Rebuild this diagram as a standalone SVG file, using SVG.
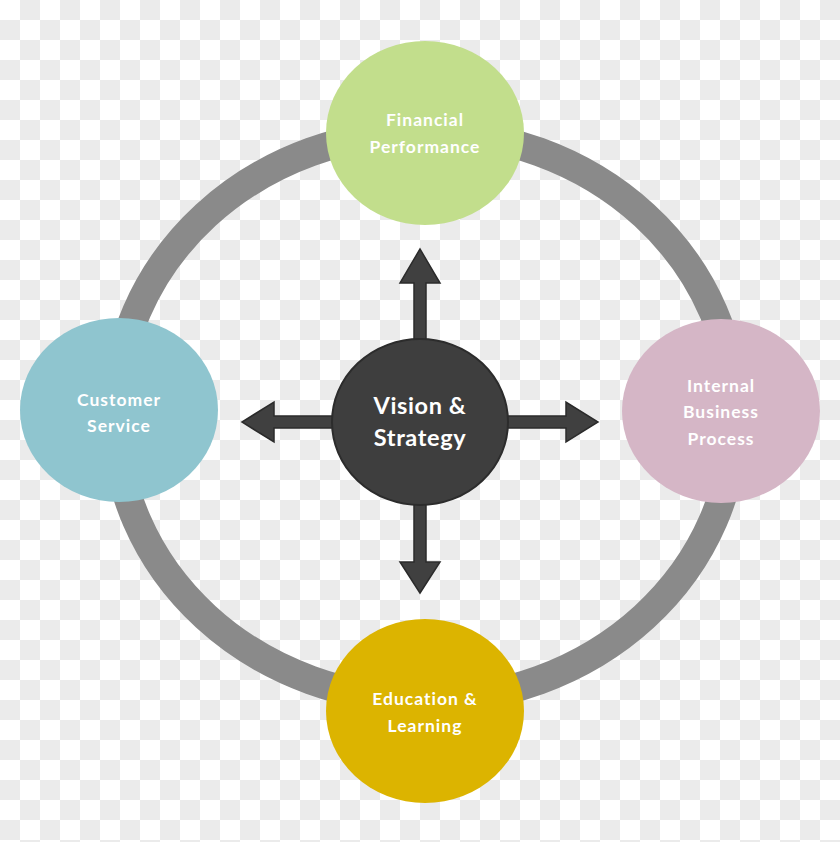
<svg xmlns="http://www.w3.org/2000/svg" width="840" height="842" viewBox="0 0 840 842">
  <defs>
    <pattern id="checker" x="0" y="0" width="40" height="40" patternUnits="userSpaceOnUse">
      <rect x="0" y="0" width="40" height="40" fill="#ffffff"/>
      <rect x="20" y="0" width="20" height="20" fill="#ebebeb"/>
      <rect x="0" y="20" width="20" height="20" fill="#ebebeb"/>
    </pattern>
  </defs>
  <style>
    .ring { fill: none; stroke: #8a8a8a; stroke-width: 29; }
    .arrow { fill: #404040; stroke: #2b2b2b; stroke-width: 1.5; stroke-linejoin: miter; }
    .lbl { font-family: Lato, "Open Sans", "Liberation Sans", sans-serif; font-weight: 700; font-size: 17.5px; fill: #ffffff; text-anchor: middle; letter-spacing: 1px; }
    .lbl-c { font-family: Lato, "Open Sans", "Liberation Sans", sans-serif; font-weight: 700; font-size: 23.5px; fill: #ffffff; text-anchor: middle; letter-spacing: 0.6px; }
  </style>
  <rect x="0" y="0" width="840" height="842" fill="url(#checker)"/>

  <g id="ring">
    <ellipse class="ring" cx="425" cy="416" rx="310" ry="284"/>
  </g>

  <g id="connectors">
    <path class="arrow" d="M414,340 L414,283 L400,283 L420,249 L440,283 L426,283 L426,340 Z"/>
    <path class="arrow" d="M414,504 L414,562 L400,562 L420,593 L440,562 L426,562 L426,504 Z"/>
    <path class="arrow" d="M333,416 L274,416 L274,402 L242,422 L274,442 L274,428 L333,428 Z"/>
    <path class="arrow" d="M507,416 L566,416 L566,402 L598,422 L566,442 L566,428 L507,428 Z"/>
  </g>

  <g id="vision-strategy">
    <ellipse cx="420" cy="422" rx="88" ry="83" fill="#3e3e3e" stroke="#2c2c2c" stroke-width="2"/>
    <text class="lbl-c" x="420" y="414">Vision &amp;</text>
    <text class="lbl-c" x="420" y="446">Strategy</text>
  </g>

  <g id="financial-performance">
    <ellipse cx="425" cy="133" rx="99" ry="92" fill="#c2de8c"/>
    <text class="lbl" x="425" y="126">Financial</text>
    <text class="lbl" x="425" y="153">Performance</text>
  </g>

  <g id="customer-service">
    <ellipse cx="119" cy="410" rx="99" ry="92" fill="#8fc5cf"/>
    <text class="lbl" x="119" y="406">Customer</text>
    <text class="lbl" x="119" y="432">Service</text>
  </g>

  <g id="internal-business-process">
    <ellipse cx="721" cy="411" rx="99" ry="92" fill="#d5b6c6"/>
    <text class="lbl" x="721" y="392">Internal</text>
    <text class="lbl" x="721" y="418">Business</text>
    <text class="lbl" x="721" y="445">Process</text>
  </g>

  <g id="education-learning">
    <ellipse cx="425" cy="711" rx="99" ry="92" fill="#dcb400"/>
    <text class="lbl" x="425" y="705">Education &amp;</text>
    <text class="lbl" x="425" y="732">Learning</text>
  </g>
</svg>
